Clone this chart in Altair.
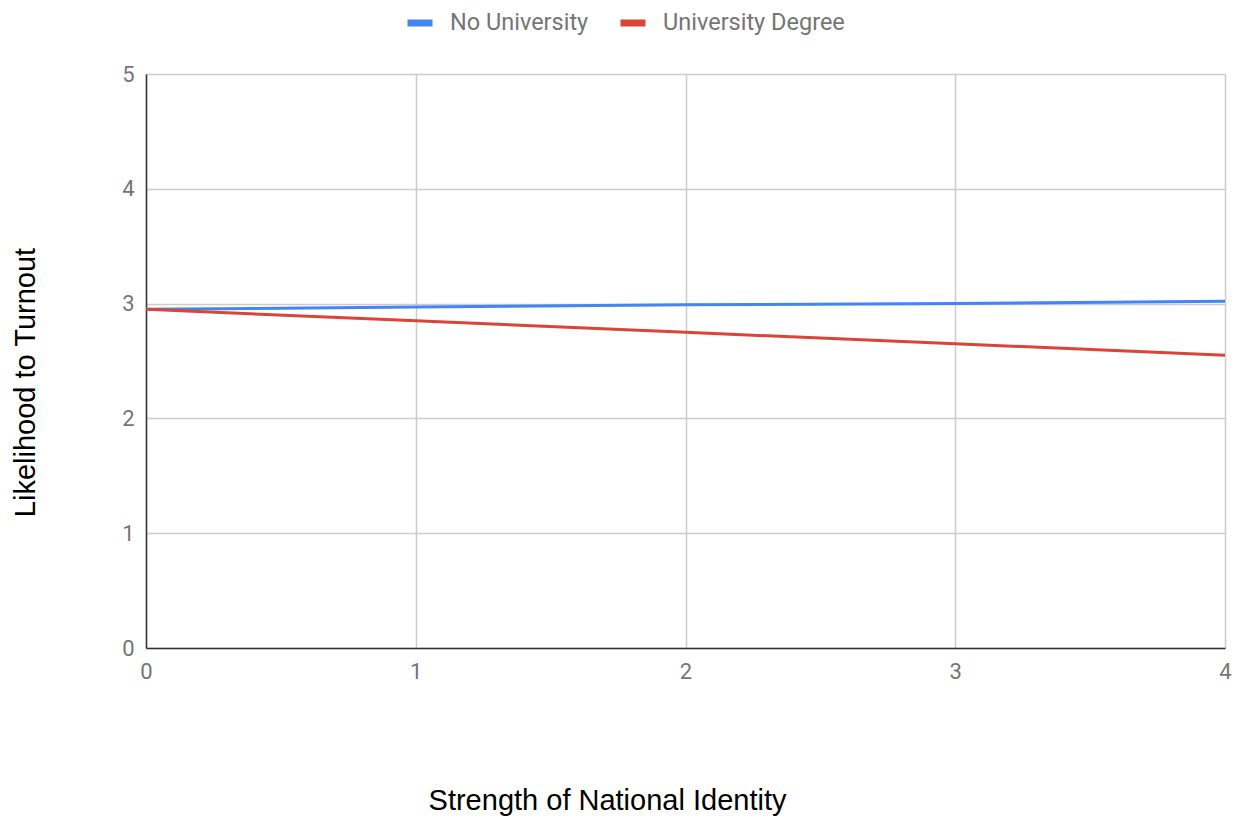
import altair as alt
import pandas as pd

# Strength of national identity (x) and predicted turnout likelihood per group
identity = [0, 1, 2, 3, 4]
no_university = [2.95, 2.97, 2.99, 3.00, 3.02]
university_degree = [2.95, 2.85, 2.75, 2.65, 2.55]
series_names = ["No University", "University Degree"]
series_colors = ["#4285F4", "#DB4437"]

rows = []
for name, values in zip(series_names, [no_university, university_degree]):
    for x, y in zip(identity, values):
        rows.append({"identity": x, "turnout": y, "group": name})
df = pd.DataFrame(rows)

chart = (
    alt.Chart(df)
    .mark_line(strokeWidth=3)
    .encode(
        x=alt.X(
            "identity:Q",
            scale=alt.Scale(domain=[0, 4], nice=False),
            axis=alt.Axis(
                values=identity,
                format="d",
                title="Strength of National Identity",
                titleFont="Liberation Sans",
                titleFontSize=29,
                titleFontWeight="normal",
                titleColor="#000000",
                titleX=461,
                titleY=152,
                titleBaseline="middle",
                titleAlign="center",
                labelFont="Roboto",
                labelFontSize=22,
                labelColor="#757575",
                labelPadding=13,
                labelFlush=False,
                ticks=False,
                domainColor="#333333",
                domainWidth=1.5,
                gridColor="#cccccc",
                gridWidth=1.5,
            ),
        ),
        y=alt.Y(
            "turnout:Q",
            scale=alt.Scale(domain=[0, 5], nice=False),
            axis=alt.Axis(
                values=[0, 1, 2, 3, 4, 5],
                format="d",
                title="Likelihood to Turnout",
                titleFont="Liberation Sans",
                titleFontSize=29,
                titleFontWeight="normal",
                titleColor="#000000",
                titleX=-121,
                titleY=308,
                titleBaseline="middle",
                titleAlign="center",
                titleAngle=270,
                labelFont="Roboto",
                labelFontSize=22,
                labelColor="#757575",
                labelPadding=12,
                ticks=False,
                domainColor="#333333",
                domainWidth=1.5,
                gridColor="#cccccc",
                gridWidth=1.5,
            ),
        ),
        color=alt.Color(
            "group:N",
            scale=alt.Scale(domain=series_names, range=series_colors),
            legend=alt.Legend(
                title=None,
                orient="none",
                direction="horizontal",
                legendX=258,
                legendY=-67,
                symbolType="stroke",
                symbolStrokeWidth=7,
                symbolSize=625,
                labelFont="Roboto",
                labelFontSize=23.5,
                labelColor="#757575",
                labelLimit=400,
                columnPadding=17,
                labelOffset=14,
            ),
        ),
    )
    .properties(
        width=1079,
        height=574,
        autosize=alt.AutoSizeParams(type="none"),
        padding={"left": 146, "top": 74, "right": 19, "bottom": 168},
    )
    .configure_view(stroke="#cccccc", strokeWidth=1.5)
    .configure(background="white")
)

chart.save("out.html", embed_options={"renderer": "svg", "actions": False})
